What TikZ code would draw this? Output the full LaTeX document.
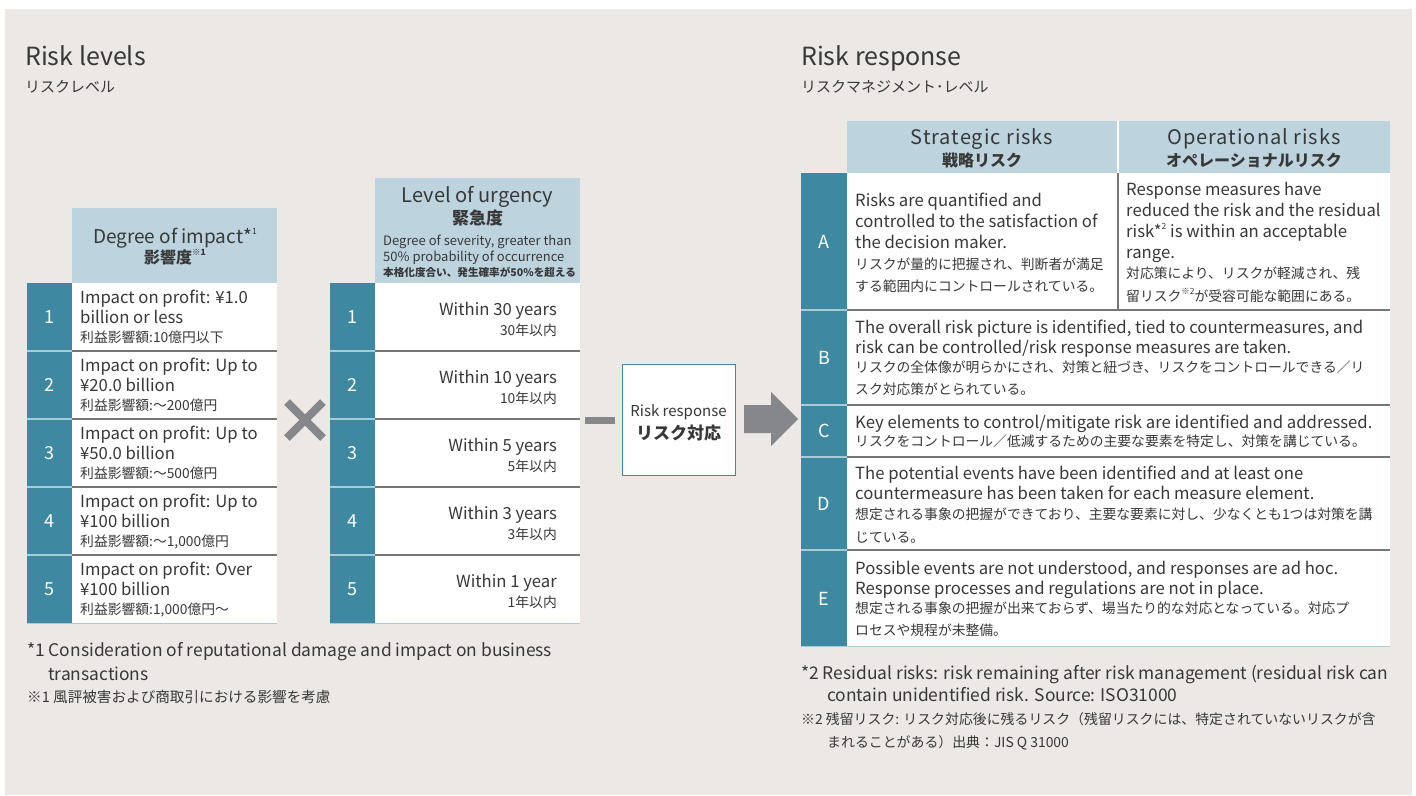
\documentclass[tikz,border=0pt]{standalone}
\usepackage{fontspec}
\setmainfont{Noto Sans CJK JP}
\definecolor{bg}{HTML}{EBE8E5}
\definecolor{hdr}{HTML}{BDD4DF}
\definecolor{tealc}{HTML}{3F88A1}
\definecolor{txt}{HTML}{383838}
\definecolor{sepd}{HTML}{767676}
\definecolor{sepl}{HTML}{A9CAD7}
\definecolor{gry}{HTML}{86878A}
\newcommand\fs[2]{\fontsize{#1}{#2}\selectfont}
\newcommand\supx[1]{\raisebox{0.45em}{\fs{8.5}{9}#1}}
\begin{document}
\begin{tikzpicture}[x=1pt,y=-1pt,
 box/.style={anchor=north west, inner sep=0pt, outer sep=0pt, draw=none},
 en/.style={anchor=base west, inner sep=0pt, text=txt, font=\fs{16.7}{20}},
 jp/.style={anchor=base west, inner sep=0pt, text=txt, font=\fs{13.8}{16}},
 enr/.style={en, anchor=base east},
 jpr/.style={jp, anchor=base east},
 num/.style={anchor=center, inner sep=0pt, text=white, font=\fs{18}{20}},
 hd/.style={anchor=base, inner sep=0pt, text=txt},
 sepdark/.style={draw=sepd, line width=1.6pt},
 seplight/.style={draw=sepl, line width=1.6pt},
 foot/.style={anchor=base west, inner sep=0pt, text=txt, font=\fs{17.4}{20}},
 footjp/.style={anchor=base west, inner sep=0pt, text=txt, font=\fs{13.9}{16}},
]
\useasboundingbox (0,0) rectangle (1416,795);
\fill[white] (0,0) rectangle (1416,795);
\fill[bg] (5,9) rectangle (1412,795);

% ---------------- titles
\node[anchor=base west, inner sep=0pt, text=txt, font=\fs{25}{30}] (t1) at (25,65) {Risk levels};
\node[anchor=base west, inner sep=0pt, text=txt, font=\fs{15}{18}] (t1j) at (25,92) {リスクレベル};
\node[anchor=base west, inner sep=0pt, text=txt, font=\fs{25}{30}] (t2) at (801,65) {Risk response};
\node[anchor=base west, inner sep=0pt, text=txt, font=\fs{15}{18}] (t2j) at (801,92) {リスクマネジメント･レベル};

% ---------------- left table (degree of impact)
\node[box, fill=hdr, minimum width=205pt, minimum height=75pt] (lh) at (72,208) {};
\node[hd, font=\fs{19}{22}] (lh1) at (175,243) {Degree of impact*\supx{1}};
\node[hd, font=\fs{16}{18}\bfseries] (lh2) at (175,263) {影響度\supx{※1}};
\foreach \i/\t/\h in {1/283/68,2/351/68,3/419/68,4/487/68,5/555/69}{
  \node[box, fill=tealc, minimum width=45pt, minimum height=\h pt] (ln\i) at (27,\t) {};
  \node[box, fill=white, minimum width=205pt, minimum height=\h pt] (lc\i) at (72,\t) {};
  \node[num] (lnum\i) at (49.5,\t+34) {\i};
}
\node[en] (l1a) at (80,303) {Impact on profit: ¥1.0};
\node[en] (l1b) at (80,323) {billion or less};
\node[jp] (l1c) at (80,342) {利益影響額:10億円以下};
\node[en] (l2a) at (80,371) {Impact on profit: Up to};
\node[en] (l2b) at (80,391) {¥20.0 billion};
\node[jp] (l2c) at (80,410) {利益影響額:〜200億円};
\node[en] (l3a) at (80,439) {Impact on profit: Up to};
\node[en] (l3b) at (80,459) {¥50.0 billion};
\node[jp] (l3c) at (80,478) {利益影響額:〜500億円};
\node[en] (l4a) at (80,507) {Impact on profit: Up to};
\node[en] (l4b) at (80,527) {¥100 billion};
\node[jp] (l4c) at (80,546) {利益影響額:〜1,000億円};
\node[en] (l5a) at (80,575) {Impact on profit: Over};
\node[en] (l5b) at (80,595) {¥100 billion};
\node[jp] (l5c) at (80,614) {利益影響額:1,000億円〜};
\foreach \t in {351,419,487,555}{
  \draw[sepdark] (72,\t) -- (277,\t);
  \draw[seplight] (27,\t) -- (72,\t);
}
\draw[seplight] (27,623.5) -- (277,623.5);

% ---------------- times sign
\draw[gry, line width=8pt] (287,402) -- (323,438);
\draw[gry, line width=8pt] (287,438) -- (323,402);

% ---------------- middle table (level of urgency)
\node[box, fill=hdr, minimum width=205pt, minimum height=105pt] (mh) at (375,178) {};
\node[hd, font=\fs{20}{22}] (mh1) at (477.5,202) {Level of urgency};
\node[hd, font=\fs{17}{20}\bfseries] (mh2) at (477.5,224) {緊急度};
\node[anchor=base west, inner sep=0pt, text=txt, font=\fs{13}{15}] (mh3) at (383,245) {Degree of severity, greater than};
\node[anchor=base west, inner sep=0pt, text=txt, font=\fs{13}{15}] (mh4) at (383,261) {50\% probability of occurrence};
\node[anchor=base west, inner sep=0pt, text=txt, font=\fs{10.6}{12}\bfseries] (mh5) at (383,276) {本格化度合い、発生確率が50\%を超える};
\foreach \i/\t/\h/\a/\b in {1/283/68/30 years/30,2/351/68/10 years/10,3/419/68/5 years/5,4/487/68/3 years/3,5/555/69/1 year/1}{
  \node[box, fill=tealc, minimum width=45pt, minimum height=\h pt] (mn\i) at (330,\t) {};
  \node[box, fill=white, minimum width=205pt, minimum height=\h pt] (mc\i) at (375,\t) {};
  \node[num] (mnum\i) at (352.5,\t+34) {\i};
  \node[enr] (mta\i) at (557,\t+32) {Within \a};
  \node[jpr] (mtb\i) at (557,\t+52) {\b 年以内};
}
\foreach \t in {351,419,487,555}{
  \draw[sepdark] (375,\t) -- (580,\t);
  \draw[seplight] (330,\t) -- (375,\t);
}
\draw[seplight] (330,623.5) -- (580,623.5);

% ---------------- minus, risk response box, arrow
\node[box, fill=gry, minimum width=30pt, minimum height=7pt] (minus) at (585,417) {};
\node[box, fill=white, draw=tealc, line width=0.8pt, minimum width=113pt, minimum height=111pt] (rr) at (622,364) {};
\node[hd, font=\fs{15}{18}] (rr1) at (678.5,416) {Risk response};
\node[hd, font=\fs{17}{20}\bfseries] (rr2) at (678.5,439) {リスク対応};
\coordinate (arT) at (798,419);
\fill[gry] (744,405) -- (771,405) -- (771,392) -- (arT) -- (771,446) -- (771,433) -- (744,433) -- cycle;

% ---------------- right table
\node[box, fill=hdr, minimum width=271pt, minimum height=52pt] (rhs) at (847,121) {};
\node[box, fill=hdr, minimum width=272pt, minimum height=52pt] (rho) at (1118,121) {};
\draw[white, line width=1.6pt] (1118,121) -- (1118,173);
\node[hd, font=\fs{20}{22}\addfontfeature{LetterSpace=5}] (rhs1) at (982,144) {Strategic risks};
\node[hd, font=\fs{16}{18}\bfseries] (rhs2) at (982,166) {戦略リスク};
\node[hd, font=\fs{20}{22}\addfontfeature{LetterSpace=5}] (rho1) at (1254,144) {Operational risks};
\node[hd, font=\fs{16}{18}\bfseries] (rho2) at (1254,166) {オペレーショナルリスク};
\foreach \n/\t/\h/\c in {A/173/137/241.5,B/310/95/357.5,C/405/52/431,D/457/93/503.5,E/550/97/598.5}{
  \node[box, fill=tealc, minimum width=46pt, minimum height=\h pt] (rn\n) at (801,\t) {};
  \node[box, fill=white, minimum width=543pt, minimum height=\h pt] (rc\n) at (847,\t) {};
  \node[num] (rnum\n) at (824,\c) {\n};
}
\foreach \t in {310,405,457,550}{
  \draw[sepdark] (847,\t) -- (1390,\t);
  \draw[seplight] (801,\t) -- (847,\t);
}
\draw[seplight] (801,646.5) -- (1390,646.5);
\draw[sepdark] (1118,173) -- (1118,310);

% row A
\node[en] (ra1) at (855,206) {Risks are quantified and};
\node[en] (ra2) at (855,227) {controlled to the satisfaction of};
\node[en] (ra3) at (855,248) {the decision maker.};
\node[jp] (ra4) at (855,269) {リスクが量的に把握され、判断者が満足};
\node[jp] (ra5) at (855,291) {する範囲内にコントロールされている。};
\node[en] (rb1) at (1126,195) {Response measures have};
\node[en] (rb2) at (1126,216) {reduced the risk and the residual};
\node[en] (rb3) at (1126,237) {risk*\supx{2} is within an acceptable};
\node[en] (rb4) at (1126,258) {range.};
\node[jp] (rb5) at (1126,278) {対応策により、リスクが軽減され、残};
\node[jp] (rb6) at (1126,301) {留リスク\supx{※2}が受容可能な範囲にある。};
% row B
\node[en] (rB1) at (855,333) {The overall risk picture is identified, tied to countermeasures, and};
\node[en] (rB2) at (855,353) {risk can be controlled/risk response measures are taken.};
\node[jp] (rB3) at (855,372) {リスクの全体像が明らかにされ、対策と紐づき、リスクをコントロールできる／リ};
\node[jp] (rB4) at (855,394) {スク対応策がとられている。};
% row C
\node[en] (rC1) at (855,428) {Key elements to control/mitigate risk are identified and addressed.};
\node[jp] (rC2) at (855,446) {リスクをコントロール／低減するための主要な要素を特定し、対策を講じている。};
% row D
\node[en] (rD1) at (855,479) {The potential events have been identified and at least one};
\node[en] (rD2) at (855,499) {countermeasure has been taken for each measure element.};
\node[jp] (rD3) at (855,519) {想定される事象の把握ができており、主要な要素に対し、少なくとも1つは対策を講};
\node[jp] (rD4) at (855,542) {じている。};
% row E
\node[en] (rE1) at (855,574) {Possible events are not understood, and responses are ad hoc.};
\node[en] (rE2) at (855,594) {Response processes and regulations are not in place.};
\node[jp] (rE3) at (855,613) {想定される事象の把握が出来ておらず、場当たり的な対応となっている。対応プ};
\node[jp] (rE4) at (855,635) {ロセスや規程が未整備。};

% ---------------- footnotes
\node[foot] (f1a) at (27,656) {*1 Consideration of reputational damage and impact on business};
\node[foot] (f1b) at (48,680) {transactions};
\node[footjp, font=\fs{14.6}{16}] (f1c) at (27,702) {※1 風評被害および商取引における影響を考慮};
\node[foot] (f2a) at (801,679) {*2 Residual risks: risk remaining after risk management (residual risk can};
\node[foot] (f2b) at (827,701) {contain unidentified risk. Source: ISO31000};
\node[footjp] (f2c) at (801,724) {※2 残留リスク: リスク対応後に残るリスク（残留リスクには、特定されていないリスクが含};
\node[footjp] (f2d) at (827,747) {まれることがある）出典：JIS Q 31000};
\end{tikzpicture}
\end{document}
